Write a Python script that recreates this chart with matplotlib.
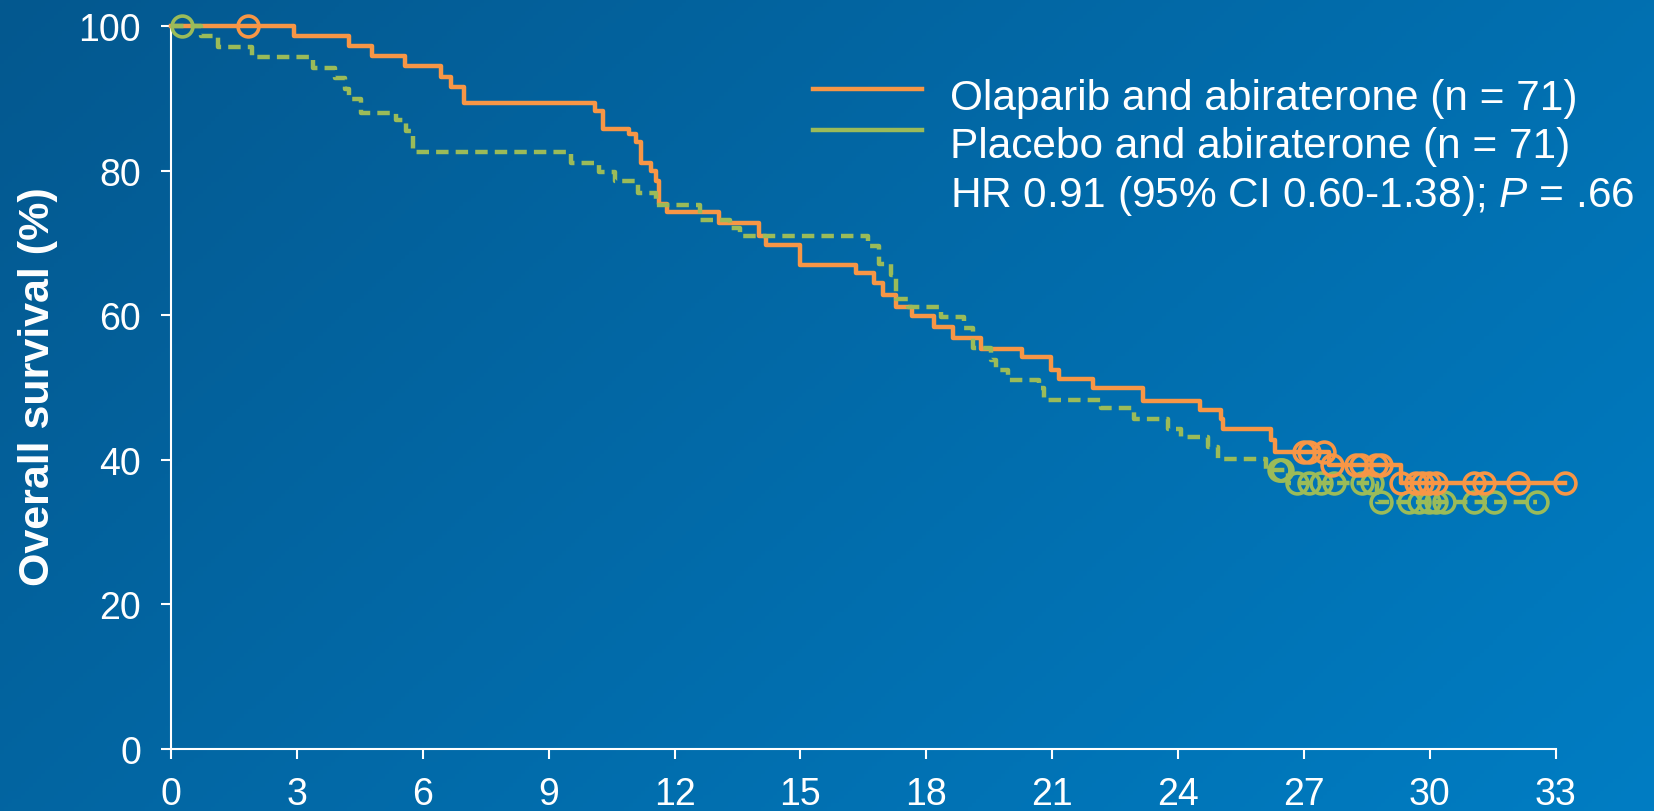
import numpy as np
import matplotlib
matplotlib.use("Agg")
import matplotlib.pyplot as plt
from matplotlib.lines import Line2D

plt.rcParams['font.family'] = ['Liberation Sans', 'DejaVu Sans']
plt.rcParams['mathtext.fontset'] = 'custom'
plt.rcParams['mathtext.rm'] = 'Liberation Sans'
plt.rcParams['mathtext.it'] = 'Liberation Sans:italic'

# Olaparib + abiraterone: step times (months) and survival after each step (%)
ola_t = [0, 2.93, 4.25, 4.80, 5.57, 6.44, 6.68, 6.98, 10.10, 10.29, 10.91, 11.08,
         11.21, 11.45, 11.56, 11.64, 11.82, 13.07, 14.01, 14.17, 14.98, 16.33,
         16.76, 16.96, 17.28, 17.65, 18.19, 18.63, 19.30, 20.29, 20.97, 21.17,
         21.96, 23.17, 24.52, 25.02, 25.08, 26.22, 26.30, 27.60, 29.30]
ola_s = [100, 98.6, 97.2, 95.8, 94.4, 93.0, 91.5, 89.4, 88.2, 85.7, 85.0, 84.0,
         81.1, 79.9, 78.6, 75.4, 74.3, 72.7, 71.0, 69.7, 67.0, 65.8,
         64.4, 62.8, 61.2, 59.9, 58.3, 56.9, 55.3, 54.2, 52.4, 51.2,
         50.0, 48.2, 46.9, 45.7, 44.3, 42.8, 41.1, 39.3, 36.8]
ola_end = 33.23
ola_cens = [1.84, 27.00, 27.12, 27.48, 27.67, 28.23, 28.35, 28.71, 28.83, 29.30,
            29.66, 29.82, 29.98, 30.14, 31.05, 31.29, 32.10, 33.23]

# Placebo + abiraterone
pbo_t = [0, 0.71, 1.13, 1.92, 3.39, 3.90, 4.14, 4.24, 4.52, 5.37, 5.61, 5.77,
         9.54, 10.21, 10.59, 11.13, 11.56, 12.60, 13.31, 13.55, 16.60, 16.88,
         17.16, 17.28, 17.56, 18.35, 18.90, 19.12, 19.54, 19.66, 19.94, 20.69,
         20.81, 22.16, 22.95, 23.75, 24.06, 24.70, 24.95, 26.09, 26.62, 28.75]
pbo_s = [100, 98.6, 97.1, 95.7, 94.2, 92.8, 91.3, 89.9, 88.0, 87.0, 85.5, 82.6,
         81.1, 79.8, 78.6, 76.9, 75.3, 73.2, 72.0, 71.0, 69.6, 67.1,
         65.5, 62.3, 61.1, 59.7, 58.2, 55.5, 53.8, 52.4, 51.0, 49.9,
         48.3, 47.1, 45.6, 44.3, 43.1, 41.8, 40.1, 38.6, 36.8, 34.2]
pbo_end = 32.56
pbo_cens = [0.27, 26.40, 26.44, 26.48, 26.84, 27.12, 27.40, 27.71, 28.39, 28.63,
            28.83, 29.50, 29.74, 29.98, 30.14, 30.33, 31.05, 31.52, 32.56]

x_ticks = list(range(0, 34, 3))
y_ticks = list(range(0, 101, 20))

ORANGE = '#F79646'
GREEN = '#9BBB59'
W, H = 1654, 812


def surv_at(times, surv, x):
    idx = np.searchsorted(times, x, side='right') - 1
    return np.asarray(surv)[idx]


fig = plt.figure(figsize=(W / 100, H / 100), dpi=100)

# blue gradient backdrop
bg = fig.add_axes([0, 0, 1, 1])
gx, gy = np.meshgrid(np.linspace(0, 1, 400), np.linspace(0, 1, 200))
g = 0.65 * gx + 0.35 * gy
c0 = np.array([4, 88, 143]) / 255
c1 = np.array([0, 125, 195]) / 255
img = c0[None, None, :] + g[:, :, None] * (c1 - c0)[None, None, :]
bg.imshow(img, aspect='auto', extent=[0, 1, 1, 0])
bg.set_axis_off()

ax = fig.add_axes([171 / W, 62 / H, 1410 / W, 723 / H])
ax.patch.set_alpha(0)

lw = 3.2
ax.plot(ola_t + [ola_end], ola_s + [ola_s[-1]], drawstyle='steps-post',
        color=ORANGE, lw=lw, clip_on=False, zorder=3)
ax.plot(pbo_t + [pbo_end], pbo_s + [pbo_s[-1]], drawstyle='steps-post',
        color=GREEN, lw=lw, ls=(0, (2.8, 1.6)), clip_on=False, zorder=4)
ax.plot(pbo_cens, surv_at(pbo_t, pbo_s, pbo_cens), 'o', ms=15, mew=2.6,
        mfc='none', mec=GREEN, clip_on=False, zorder=5)
ax.plot(ola_cens, surv_at(ola_t, ola_s, ola_cens), 'o', ms=15, mew=2.6,
        mfc='none', mec=ORANGE, clip_on=False, zorder=6)

ax.set_xlim(0, 33.6)
ax.set_ylim(0, 100)
ax.set_xticks(x_ticks)
ax.set_yticks(y_ticks)
for side in ['top', 'right']:
    ax.spines[side].set_visible(False)
for side in ['left', 'bottom']:
    ax.spines[side].set_color('white')
    ax.spines[side].set_linewidth(1.5)
ax.spines['bottom'].set_bounds(0, 33)
ax.tick_params(colors='white', labelsize=27, length=7.5, width=1.5)
ax.tick_params(axis='x', pad=12)
ax.tick_params(axis='y', pad=14)

fig.text(38 / W, 1 - 387 / H, 'Overall survival (%)', rotation=90, ha='center',
         va='center', fontsize=31, fontweight='bold', color='white')

# legend block
fig.add_artist(Line2D([813 / W, 922 / W], [1 - 89.5 / H] * 2, color=ORANGE, lw=lw))
fig.add_artist(Line2D([813 / W, 922 / W], [1 - 131 / H] * 2, color=GREEN, lw=lw))
fig.text(950 / W, 1 - 110 / H, 'Olaparib and abiraterone (n = 71)',
         fontsize=30.5, color='white', va='baseline')
fig.text(950 / W, 1 - 158.5 / H, 'Placebo and abiraterone (n = 71)',
         fontsize=30.5, color='white', va='baseline')
fig.text(950 / W, 1 - 207 / H, r'HR 0.91 (95% CI 0.60-1.38); $\mathit{P}$ = .66',
         fontsize=30.5, color='white', va='baseline')

fig.savefig('out.png', dpi=100)
